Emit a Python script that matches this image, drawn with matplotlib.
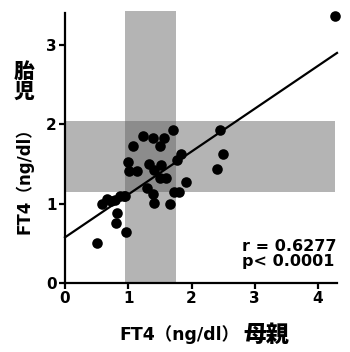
import numpy as np
import matplotlib.pyplot as plt
from matplotlib.patches import Rectangle
from matplotlib import font_manager

plt.rcParams['font.family'] = ['DejaVu Sans', 'Noto Sans CJK JP']
plt.rcParams['font.weight'] = 'bold'
print(sorted({(f.name, f.weight) for f in font_manager.fontManager.ttflist if 'CJK JP' in f.name}))

# maternal FT4 (x) vs fetal FT4 (y), ng/dl
mother = [4.27, 2.45, 2.50, 2.41, 1.71, 1.56, 1.39, 1.23, 1.07, 1.50,
          1.84, 1.77, 1.00, 1.33, 1.51, 1.01, 1.14, 1.41, 1.50, 1.60,
          1.92, 1.29, 1.39, 1.72, 1.80, 0.945, 0.87, 0.79, 0.67, 0.58,
          1.40, 1.66, 0.82, 0.80, 0.97, 0.51, 0.93, 0.72]
fetus = [3.36, 1.93, 1.62, 1.44, 1.93, 1.82, 1.83, 1.85, 1.73, 1.72,
         1.625, 1.55, 1.53, 1.50, 1.48, 1.41, 1.41, 1.42, 1.32, 1.32,
         1.27, 1.20, 1.12, 1.14, 1.15, 1.09, 1.09, 1.05, 1.06, 1.00,
         1.01, 1.00, 0.88, 0.75, 0.64, 0.50, 1.10, 1.03]

# reference ranges
mother_range = (0.945, 1.76)
fetus_range = (1.15, 2.04)

# regression line
fit_intercept = 0.575
fit_slope = 0.54
stats_text = 'r = 0.6277\np< 0.0001'

fig = plt.figure(figsize=(3.5, 3.52), dpi=100)
W, H = 350, 352
ax = fig.add_axes([65 / W, 1 - 283 / H, 272 / W, 270 / H])
ax.set_xlim(0, 4.3)
ax.set_ylim(0, 3.4)

band = '#b4b4b4'
overlap = '#8c8c8c'
ax.add_patch(Rectangle((mother_range[0], 0), mother_range[1] - mother_range[0], 3.42,
                       color=band, lw=0, clip_on=False, zorder=1))
ax.add_patch(Rectangle((0, fetus_range[0]), 4.27, fetus_range[1] - fetus_range[0],
                       color=band, lw=0, zorder=1))
ax.add_patch(Rectangle((mother_range[0], fetus_range[0]), mother_range[1] - mother_range[0],
                       fetus_range[1] - fetus_range[0], color=overlap, lw=0, zorder=1))

xs = np.array([0, 4.3])
ax.plot(xs, fit_intercept + fit_slope * xs, color='black', lw=1.6, zorder=3, clip_on=False)
ax.scatter(mother, fetus, s=58, color='black', zorder=4, clip_on=False, linewidths=0)

for side in ['top', 'right']:
    ax.spines[side].set_visible(False)
for side in ['left', 'bottom']:
    ax.spines[side].set_linewidth(1.6)
ax.set_xticks([0, 1, 2, 3, 4])
ax.set_yticks([0, 1, 2, 3])
ax.tick_params(width=1.6, length=4, labelsize=11, pad=2)
for lab in ax.get_xticklabels() + ax.get_yticklabels():
    lab.set_fontweight('bold')

fig.text(337 / W, 1 - 266 / H, stats_text, ha='right', va='baseline', fontsize=11.5,
         linespacing=1.0, multialignment='left')

fig.text(239 / W, 1 - 335 / H, 'FT4（ng/dl）', ha='right', va='center', fontsize=12.5)
fig.text(243 / W, 1 - 335 / H, '母親', ha='left', va='center', fontsize=16.5, fontweight='black')

fig.text(24 / W, 1 - 177 / H, 'FT4（ng/dl）', ha='center', va='center', rotation=90, fontsize=12)
fig.text(24 / W, 1 - 82 / H, '胎\n児', ha='center', va='center', fontsize=15, linespacing=1.0,
         fontweight='black')

fig.savefig('out.png', dpi=100)
